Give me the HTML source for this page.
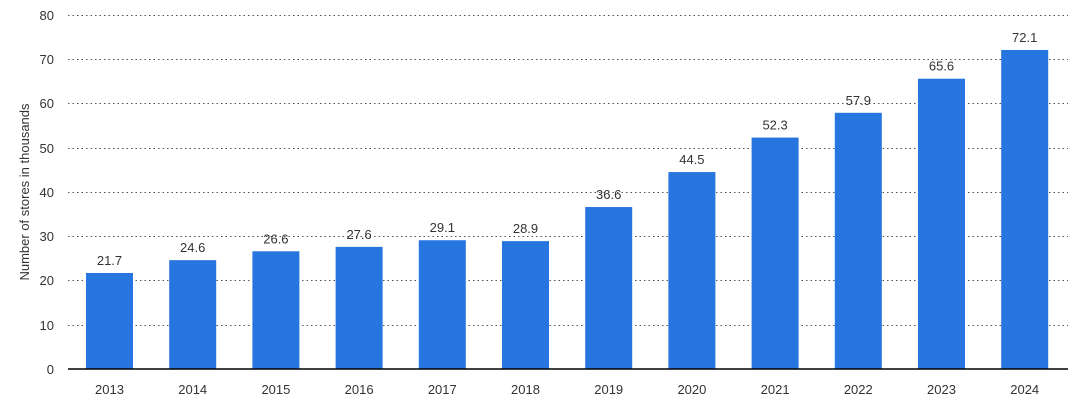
<!DOCTYPE html>
<html><head><meta charset="utf-8"><style>
body{margin:0;background:#fff;}
svg text{font-family:"Liberation Sans",sans-serif;fill:#333;font-size:13px;}
</style></head><body>
<svg width="1080" height="406" xmlns="http://www.w3.org/2000/svg">
<g stroke="#555" stroke-width="1" stroke-dasharray="1.5,3">
<line x1="68" x2="1068" y1="15.5" y2="15.5"/>
<line x1="68" x2="1068" y1="59.5" y2="59.5"/>
<line x1="68" x2="1068" y1="103.5" y2="103.5"/>
<line x1="68" x2="1068" y1="148.5" y2="148.5"/>
<line x1="68" x2="1068" y1="192.5" y2="192.5"/>
<line x1="68" x2="1068" y1="236.5" y2="236.5"/>
<line x1="68" x2="1068" y1="280.5" y2="280.5"/>
<line x1="68" x2="1068" y1="325.5" y2="325.5"/>
</g>
<g text-anchor="end">
<text x="54" y="20">80</text><text x="54" y="64">70</text><text x="54" y="108">60</text><text x="54" y="153">50</text>
<text x="54" y="197">40</text><text x="54" y="241">30</text><text x="54" y="285">20</text><text x="54" y="330">10</text><text x="54" y="374">0</text>
</g>
<text transform="translate(29,192) rotate(-90)" text-anchor="middle" font-size="12">Number of stores in thousands</text>
<g fill="#2775de" id="bars"></g>
<g id="labels" text-anchor="middle"></g>
<line x1="68" x2="1068" y1="369" y2="369" stroke="#000" stroke-width="1.5"/>
<script>
var v=[21.7,24.6,26.6,27.6,29.1,28.9,36.6,44.5,52.3,57.9,65.6,72.1];
var b=document.getElementById('bars'),l=document.getElementById('labels'),ns='http://www.w3.org/2000/svg';
v.forEach(function(d,i){var cx=109.5+i*83.2,h=d*4.425;
var r=document.createElementNS(ns,'rect');r.setAttribute('x',cx-23.5);r.setAttribute('width',47);r.setAttribute('y',369-h);r.setAttribute('height',h);b.appendChild(r);
var t=document.createElementNS(ns,'text');t.setAttribute('x',cx);t.setAttribute('y',369-h-8);t.textContent=d.toFixed(1);l.appendChild(t);
var y=document.createElementNS(ns,'text');y.setAttribute('x',cx);y.setAttribute('y',394);y.textContent=2013+i;l.appendChild(y);});
</script>
</svg>
</body></html>
